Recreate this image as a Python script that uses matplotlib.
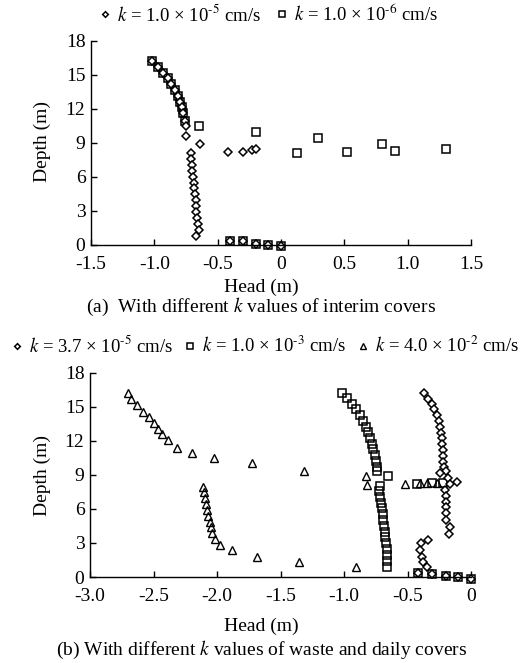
import numpy as np
import matplotlib
matplotlib.use('Agg')
import matplotlib.pyplot as plt

# Configuración general (estilo Times)
plt.rcParams['font.family'] = ['Liberation Serif', 'DejaVu Serif']
plt.rcParams['mathtext.fontset'] = 'stix'
plt.rcParams['font.size'] = 14
plt.rcParams['axes.unicode_minus'] = False

# ---------------- Datos panel (a) ----------------
# tramo superior compartido por ambas series
a_top_head = [-1.016, -0.973, -0.928, -0.896, -0.866, -0.834, -0.813, -0.794, -0.780, -0.773, -0.759]
a_top_depth = [16.2, 15.7, 15.17, 14.67, 14.14, 13.64, 13.08, 12.58, 12.11, 11.64, 10.93]
# fila inferior compartida
a_bot_head = [-0.40, -0.30, -0.20, -0.10, 0.0]
a_bot_depth = [0.3, 0.3, 0.08, -0.02, -0.15]

# k = 1.0e-5 cm/s
a1_head = [-0.75, -0.75, -0.64, -0.42, -0.30, -0.23, -0.20,
           -0.714, -0.711, -0.706, -0.700, -0.695, -0.690, -0.684, -0.679,
           -0.674, -0.671, -0.668, -0.663, -0.655, -0.647, -0.674]
a1_depth = [10.45, 9.55, 8.85, 8.13, 8.13, 8.35, 8.45,
            8.04, 7.51, 7.01, 6.51, 5.98, 5.45, 4.95, 4.42,
            3.92, 3.42, 2.89, 2.30, 1.80, 1.27, 0.74]

# k = 1.0e-6 cm/s
a2_head = [-0.647, -0.20, 0.13, 0.29, 0.52, 0.80, 0.90, 1.30]
a2_depth = [10.5, 9.9, 8.05, 9.43, 8.19, 8.9, 8.28, 8.4]

# ---------------- Datos panel (b) ----------------
b_bot_head = [-0.42, -0.31, -0.20, -0.10, 0.0]
b_bot_depth = [0.35, 0.25, 0.05, 0.0, -0.15]

# k = 3.7e-5 cm/s
b1_head = [-0.368, -0.336, -0.310, -0.291, -0.270, -0.254, -0.244, -0.234, -0.231, -0.226,
           -0.223, -0.220, -0.218, -0.210, -0.200,
           -0.244, -0.179, -0.113, -0.165,
           -0.205, -0.200, -0.198, -0.195, -0.200, -0.197, -0.165, -0.173,
           -0.336, -0.396, -0.402, -0.388, -0.375, -0.349]
b1_depth = [16.19, 15.68, 15.24, 14.77, 14.27, 13.77, 13.24, 12.71, 12.22, 11.72,
            11.19, 10.66, 10.16, 9.66, 9.37,
            9.13, 8.69, 8.34, 8.17,
            7.67, 7.16, 6.63, 6.13, 5.60, 5.05, 4.38, 3.79,
            3.26, 2.97, 2.38, 1.79, 1.29, 0.85]

# k = 1.0e-3 cm/s
b2_head = [-1.018, -0.979, -0.940, -0.906, -0.874, -0.848, -0.827, -0.809, -0.795, -0.780,
           -0.769, -0.758, -0.748, -0.743, -0.740, -0.651,
           -0.428, -0.31, -0.22,
           -0.717, -0.727, -0.717, -0.709, -0.703, -0.695, -0.690, -0.685, -0.680,
           -0.675, -0.669, -0.664, -0.661, -0.659, -0.659]
b2_depth = [16.24, 15.74, 15.24, 14.77, 14.27, 13.77, 13.24, 12.75, 12.22, 11.72,
            11.25, 10.75, 10.25, 9.72, 9.37, 8.93,
            8.2, 8.25, 8.25,
            8.02, 7.60, 7.08, 6.55, 6.05, 5.55, 5.02, 4.49, 3.99,
            3.49, 2.97, 2.44, 1.94, 1.41, 0.85]

# k = 4.0e-2 cm/s
b3_head = [-2.698, -2.677, -2.633, -2.580, -2.533, -2.496, -2.467, -2.436, -2.386, -2.318,
           -2.200, -2.024, -1.722, -1.315, -0.829, -0.816,
           -0.52, -0.40, -0.35, -0.27,
           -2.113, -2.105, -2.097, -2.089, -2.081, -2.073, -2.055, -2.047, -2.039,
           -2.013, -1.976, -1.884, -1.688, -1.354, -0.903]
b3_depth = [16.18, 15.65, 15.12, 14.57, 14.07, 13.54, 13.07, 12.57, 12.04, 11.39,
            10.90, 10.48, 10.01, 9.37, 8.93, 8.10,
            8.2, 8.3, 8.3, 8.25,
            7.96, 7.46, 6.93, 6.43, 5.90, 5.40, 4.82, 4.38, 3.85,
            3.32, 2.82, 2.38, 1.79, 1.29, 0.85]

a_xticks = [-1.5, -1.0, -0.5, 0, 0.5, 1.0, 1.5]
a_xlabels = ['-1.5', '-1.0', '-0.5', '0', '0.5', '1.0', '1.5']
b_xticks = [-3.0, -2.5, -2.0, -1.5, -1.0, -0.5, 0]
b_xlabels = ['-3.0', '-2.5', '-2.0', '-1.5', '-1.0', '-0.5', '0']
yticks = [0, 3, 6, 9, 12, 15, 18]

estilo_d = dict(marker='D', ms=3.6, mfc='white', mec='black', mew=1.1, ls='none', clip_on=False)
estilo_s = dict(marker='s', ms=5.2, mfc='none', mec='black', mew=1.1, ls='none', clip_on=False)
estilo_t = dict(marker='^', ms=6.0, mfc='none', mec='black', mew=1.0, ls='none', clip_on=False)


def etiqueta_k(mant, exp):
    # exponente con guion normal, como en el original
    return r'$k$ = ' + mant + r' × 10$^{\text{-}' + exp + r'}$ cm/s'


def formato_ejes(ax, xticks, xlabels, xlim):
    ax.set_xlim(*xlim)
    ax.set_ylim(0, 18)
    ax.set_xticks(xticks)
    ax.set_xticklabels(xlabels)
    ax.set_yticks(yticks)
    ax.spines['top'].set_visible(False)
    ax.spines['right'].set_visible(False)
    ax.spines['left'].set_linewidth(1.0)
    ax.spines['bottom'].set_linewidth(1.0)
    ax.tick_params(direction='in', length=4, width=1.0, labelsize=14)
    ax.tick_params(axis='x', pad=8)
    ax.tick_params(axis='y', pad=4)


fig = plt.figure(figsize=(5.23, 6.63), dpi=100)

# Panel (a)
ax1 = fig.add_axes([0.174, 0.6312, 0.7266, 0.3074])
ax1.plot(a_top_head + a_bot_head, a_top_depth + a_bot_depth, **estilo_s)
ax1.plot(a2_head, a2_depth, label=etiqueta_k('1.0', '6'), **estilo_s)
ax1.plot(a_top_head + a_bot_head, a_top_depth + a_bot_depth, **estilo_d)
ax1.plot(a1_head, a1_depth, label=etiqueta_k('1.0', '5'), **estilo_d)
formato_ejes(ax1, a_xticks, a_xlabels, (-1.5, 1.5))
h, l = ax1.get_legend_handles_labels()
fig.legend(h[::-1], l[::-1], loc='center', bbox_to_anchor=(0.514, 0.979), ncol=2, frameon=False,
           handlelength=0.6, handletextpad=0.35, columnspacing=0.8, markerscale=0.8, fontsize=13.5)
fig.text(0.5, 1 - 287 / 663, 'Head (m)', ha='center', va='center', fontsize=14)
fig.text(0.5, 1 - 307 / 663, r'(a)  With different $k$ values of interim covers',
         ha='center', va='center', fontsize=14)
fig.text(42 / 523, 1 - 142 / 663, 'Depth (m)', rotation=90, ha='center', va='center', fontsize=14)

# Panel (b)
ax2 = fig.add_axes([0.1721, 0.1297, 0.7285, 0.3081])
ax2.plot(b2_head + b_bot_head, b2_depth + b_bot_depth, label=etiqueta_k('1.0', '3'), **estilo_s)
ax2.plot(b1_head + b_bot_head, b1_depth + b_bot_depth, label=etiqueta_k('3.7', '5'), **estilo_d)
ax2.plot(b3_head, b3_depth, label=etiqueta_k('4.0', '2'), **estilo_t)
formato_ejes(ax2, b_xticks, b_xlabels, (-3.0, 0))
h, l = ax2.get_legend_handles_labels()
orden = [1, 0, 2]
fig.legend([h[i] for i in orden], [l[i] for i in orden], loc='center', bbox_to_anchor=(0.507, 1 - 346 / 663),
           ncol=3, frameon=False, handlelength=0.6, handletextpad=0.35, columnspacing=0.6,
           markerscale=0.8, fontsize=13.5)
fig.text(0.5, 1 - 626 / 663, 'Head (m)', ha='center', va='center', fontsize=14)
fig.text(0.5, 1 - 650 / 663, r'(b) With different $k$ values of waste and daily covers',
         ha='center', va='center', fontsize=14)
fig.text(42 / 523, 1 - 475 / 663, 'Depth (m)', rotation=90, ha='center', va='center', fontsize=14)

plt.savefig('out.png', dpi=100)
